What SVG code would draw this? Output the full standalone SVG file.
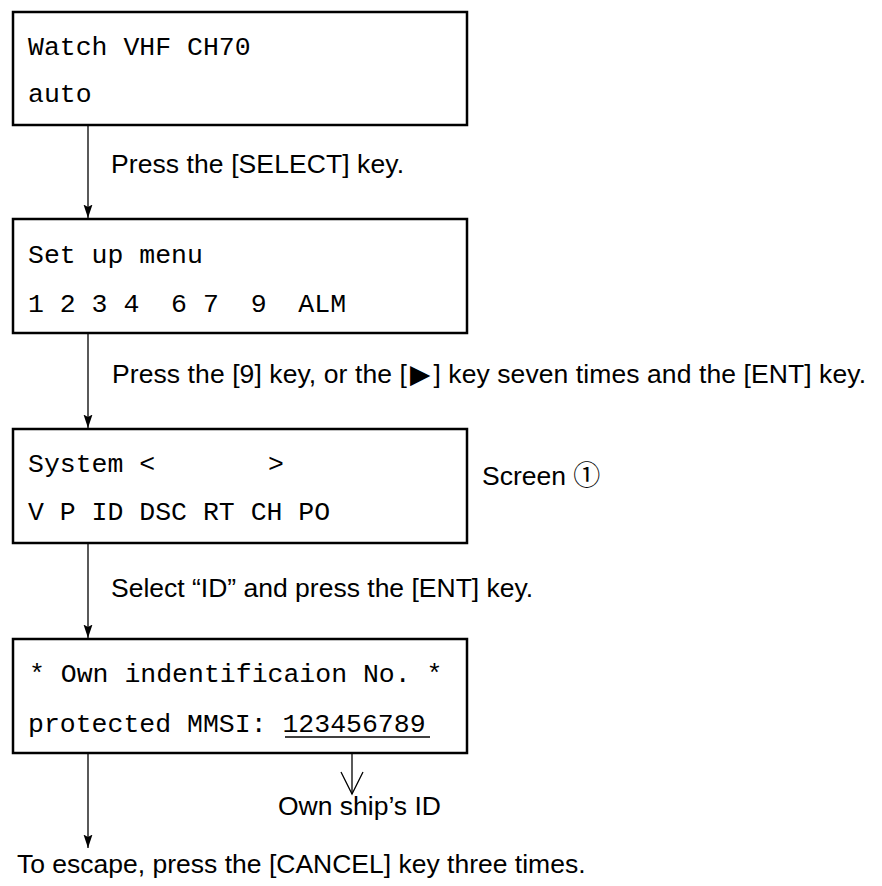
<svg xmlns="http://www.w3.org/2000/svg" width="882" height="886" viewBox="0 0 882 886">
<style>
.box{fill:#fff;stroke:#000;stroke-width:2.5}
.mono{font-family:"Liberation Mono","DejaVu Sans Mono",monospace;font-size:26.5px;fill:#000;white-space:pre}
.sans{font-family:"Liberation Sans","DejaVu Sans",sans-serif;font-size:26.5px;fill:#000;white-space:pre}
.ln{fill:none;stroke:#000;stroke-width:1.3}
</style>
<defs>
<marker id="arr" markerUnits="userSpaceOnUse" markerWidth="14" markerHeight="10" viewBox="0 0 14 10" refX="13.5" refY="5" orient="auto">
<path d="M0,0.5 L13.5,5 L0,9.5 L2.5,5 Z" fill="#000"/>
</marker>
</defs>
<rect width="882" height="886" fill="#fff"/>
<g id="connectors">
<line class="ln" x1="88" y1="125" x2="88" y2="218" marker-end="url(#arr)"/>
<line class="ln" x1="88" y1="333" x2="88" y2="428" marker-end="url(#arr)"/>
<line class="ln" x1="88" y1="543" x2="88" y2="638" marker-end="url(#arr)"/>
<line class="ln" x1="88" y1="753" x2="88" y2="848" marker-end="url(#arr)"/>
<line class="ln" x1="352" y1="737" x2="352" y2="794"/>
<polyline class="ln" points="341,772 352,794 363,772"/>
</g>
<g id="screen-watch">
<rect class="box" x="13" y="12" width="454" height="113"/>
<text class="mono" x="28" y="55">Watch VHF CH70</text>
<text class="mono" x="28" y="102">auto</text>
</g>
<g id="label-select">
<text class="sans" x="111" y="173" textLength="293">Press the [SELECT] key.</text>
</g>
<g id="screen-setup">
<rect class="box" x="13" y="219" width="454" height="114"/>
<text class="mono" x="28" y="263">Set up menu</text>
<text class="mono" x="28" y="312">1 2 3 4  6 7  9  ALM</text>
</g>
<g id="label-nine">
<text class="sans" x="112" y="383" textLength="754">Press the [9] key, or the [<tspan dx="3">▶</tspan><tspan dx="3">] key seven times and the [ENT] key.</tspan></text>
</g>
<g id="screen-system">
<rect class="box" x="13" y="429" width="454" height="114"/>
<text class="mono" x="28" y="472">System &lt;</text>
<text class="mono" x="268" y="472">&gt;</text>
<text class="mono" x="28" y="520">V P ID DSC RT CH PO</text>
</g>
<g id="label-screen1">
<text class="sans" x="482" y="485">Screen <tspan style="font-family:'Noto Sans CJK JP','Noto Sans CJK SC',sans-serif;font-size:27px">①</tspan></text>
</g>
<g id="label-id">
<text class="sans" x="111" y="597">Select “ID” and press the [ENT] key.</text>
</g>
<g id="screen-ownid">
<rect class="box" x="13" y="639" width="454" height="114"/>
<text class="mono" x="29" y="682">* Own indentificaion No. *</text>
<text class="mono" x="28" y="732">protected MMSI: 123456789</text>
<line class="ln" x1="285" y1="737" x2="430" y2="737"/>
</g>
<g id="label-ownship">
<text class="sans" x="278" y="815">Own ship’s ID</text>
</g>
<g id="label-escape">
<text class="sans" x="17" y="873">To escape, press the [CANCEL] key three times.</text>
</g>
</svg>
